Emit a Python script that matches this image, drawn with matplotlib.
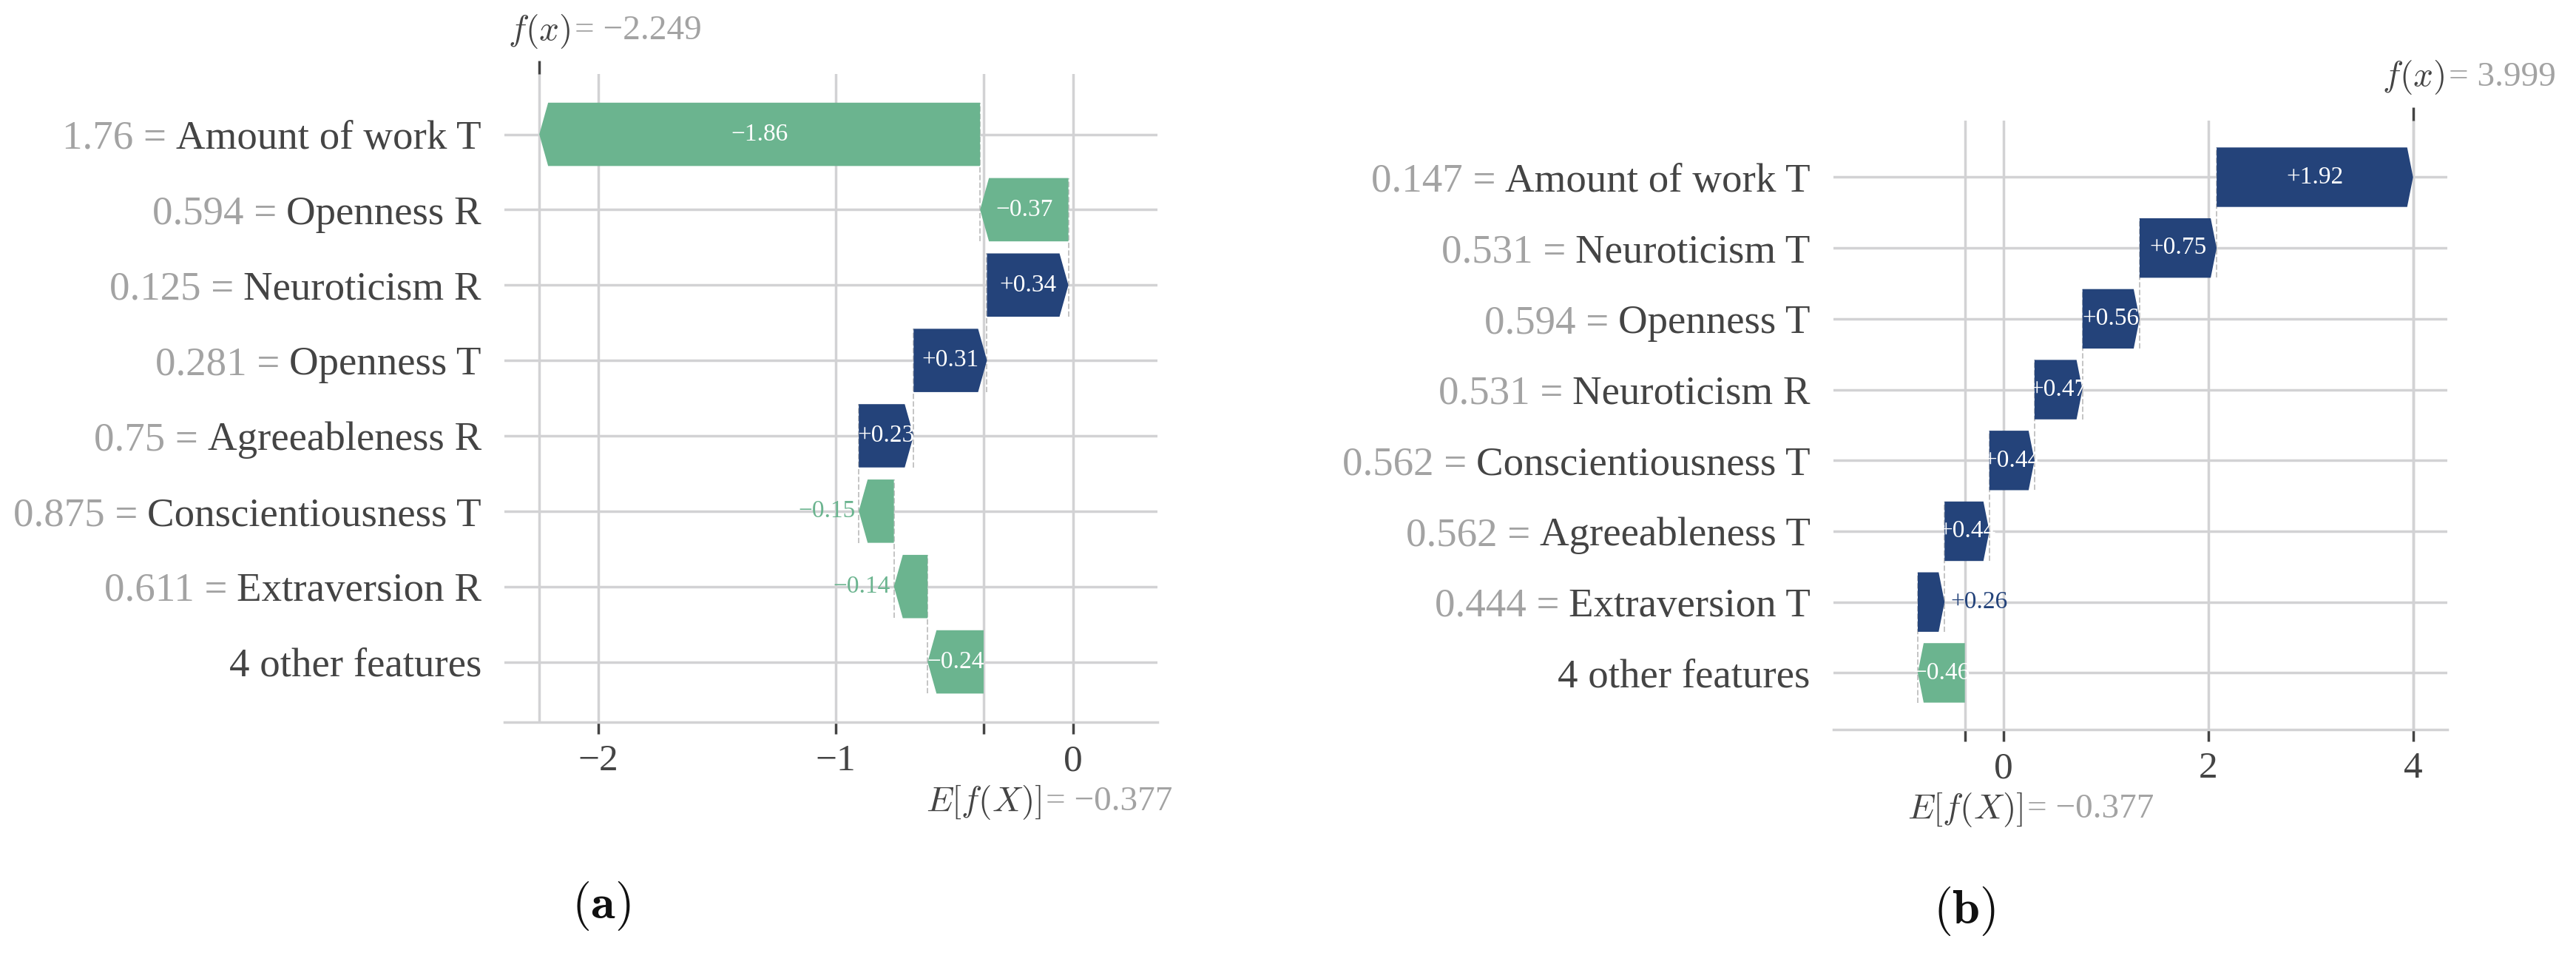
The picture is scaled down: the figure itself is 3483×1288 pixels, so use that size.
import matplotlib.pyplot as plt
import matplotlib.transforms as mtransforms
from matplotlib.patches import FancyArrow
import numpy as np

plt.rcParams['font.family'] = ['Liberation Serif', 'DejaVu Serif']
plt.rcParams['mathtext.fontset'] = 'cm'

# panel (a)
a_names = ["Amount of work T", "Openness R", "Neuroticism R", "Openness T",
           "Agreeableness R", "Conscientiousness T", "Extraversion R", "4 other features"]
a_values = ["1.76", "0.594", "0.125", "0.281", "0.75", "0.875", "0.611", ""]
a_shap = [-1.857, -0.372, 0.343, 0.309, 0.231, -0.148, -0.142, -0.236]
a_base = -0.377
a_fx = -2.249
a_xticks = [-2, -1, 0]

# panel (b)
b_names = ["Amount of work T", "Neuroticism T", "Openness T", "Neuroticism R",
           "Conscientiousness T", "Agreeableness T", "Extraversion T", "4 other features"]
b_values = ["0.147", "0.531", "0.594", "0.531", "0.562", "0.562", "0.444", ""]
b_shap = [1.918, 0.752, 0.558, 0.468, 0.441, 0.437, 0.262, -0.46]
b_base = -0.377
b_fx = 3.999
b_xticks = [0, 2, 4]

POS = "#24437a"
NEG = "#6bb48f"
GRID = "#d2d2d4"
DARK = "#444444"
GRAY = "#a3a3a3"
LABEL_FS = 39.5
MATH_FS = 34

fig = plt.figure(figsize=(34.83, 12.88), dpi=100)
renderer = fig.canvas.get_renderer()


def fmt(v, sign=False):
    s = f"{v:+.2f}" if sign else f"{v:.3f}"
    return s.replace("-", "\u2212")


def put_after(ax, txt_obj, s, gap, **kw):
    # place a gray text to the right of an already drawn text
    bb = txt_obj.get_window_extent(renderer)
    x, y = ax.transAxes.inverted().transform((bb.x1 + gap, (bb.y0 + bb.y1) / 2))
    return ax.text(x, y, s, transform=ax.transAxes, ha="left", va="center", **kw)


def waterfall(ax, names, fvals, shap, base, fx, xticks, xlim, head_px):
    n = len(names)
    ys = np.arange(n)[::-1]
    vals = np.array(shap)
    starts = np.zeros(n)
    ends = np.zeros(n)
    cur = base
    for i in range(n - 1, -1, -1):
        starts[i] = cur
        cur += vals[i]
        ends[i] = cur

    ax.set_xlim(*xlim)
    ax.set_ylim(-0.8, n - 0.2)
    w_px = ax.get_position().width * fig.get_figwidth() * fig.dpi
    ppu = w_px / (xlim[1] - xlim[0])
    hl = head_px / ppu
    bw = 0.84

    for i in range(n):
        v = vals[i]
        col = POS if v > 0 else NEG
        arr = FancyArrow(starts[i], ys[i], v, 0, width=bw, head_width=bw,
                         head_length=min(hl, abs(v)), length_includes_head=True,
                         color=col, lw=0, zorder=3)
        ax.add_patch(arr)
        txt = fmt(v, sign=True)
        if abs(v) * ppu > 55:
            ax.text((starts[i] + ends[i]) / 2, ys[i], txt, color="white",
                    fontsize=24, ha="center", va="center", zorder=4)
        else:
            dx = 8 if v > 0 else -5
            tr = mtransforms.offset_copy(ax.transData, fig=fig, x=dx, y=0, units="dots")
            ax.text(ends[i], ys[i], txt, color=col, fontsize=24, transform=tr,
                    ha="left" if v > 0 else "right", va="center", zorder=4)

    # dashed connectors between consecutive bars
    for i in range(n - 1):
        ax.plot([ends[i + 1], ends[i + 1]], [ys[i + 1] - bw / 2, ys[i] + bw / 2],
                color="#c4c4c4", ls="--", lw=1.4, zorder=1)

    # row labels: feature value in gray, feature name in dark
    ax.set_yticks(ys, labels=[""] * n)
    ax.tick_params(axis="y", length=0)
    ytr = mtransforms.offset_copy(ax.get_yaxis_transform(), fig=fig, x=-31,
                                  y=0, units="dots")
    for y, fv, nm in zip(ys, fvals, names):
        t = ax.text(0, y, nm, transform=ytr, ha="right", va="center_baseline",
                    fontsize=LABEL_FS, color=DARK)
        if fv:
            bb = t.get_window_extent(renderer)
            x0, _ = ax.transAxes.inverted().transform((bb.x0 - 13, 0))
            ax.text(x0, y, fv + " =", transform=ax.get_yaxis_transform(), ha="right",
                    va="center_baseline", fontsize=LABEL_FS, color=GRAY)

    ax.set_xticks(list(xticks) + [base],
                  labels=[str(t).replace("-", "\u2212") for t in xticks] + [""])
    ax.tick_params(axis="x", length=11.5, width=2.5, color=DARK, labelsize=37,
                   labelcolor=DARK, pad=10)
    ax.grid(True, axis="both", color=GRID, lw=2.5)
    ax.set_axisbelow(True)
    ax.axvline(fx, color=GRID, lw=2.5, zorder=0)
    for s in ["left", "right", "top"]:
        ax.spines[s].set_visible(False)
    ax.spines["bottom"].set_color(GRID)
    ax.spines["bottom"].set_linewidth(2.5)

    # top tick at f(x)
    axt = ax.twiny()
    axt.set_xlim(*xlim)
    axt.set_xticks([fx], labels=[""])
    axt.tick_params(axis="x", length=13, width=2.5, color=DARK)
    for s in axt.spines.values():
        s.set_visible(False)

    top = mtransforms.blended_transform_factory(ax.transData, ax.transAxes)
    t1 = mtransforms.offset_copy(top, fig=fig, x=0, y=58, units="dots")
    ft = ax.text(fx, 1, "$f(x)$", transform=t1, ha="center", va="center",
                 fontsize=MATH_FS, color=DARK)
    put_after(ax, ft, "= " + fmt(fx), 6, fontsize=MATH_FS, color=GRAY)

    b1 = mtransforms.offset_copy(top, fig=fig, x=0, y=-108, units="dots")
    et = ax.text(base, 0, "$E[f(X)]$", transform=b1, ha="center", va="center",
                 fontsize=MATH_FS, color=DARK)
    put_after(ax, et, "= " + fmt(base), 6, fontsize=MATH_FS, color=GRAY)


ax_a = fig.add_axes([0.1958, 0.2422, 0.2535, 0.6801])
waterfall(ax_a, a_names, a_values, a_shap, a_base, a_fx, a_xticks, (-2.396, 0.355), 12)

ax_b = fig.add_axes([0.7117, 0.2345, 0.2383, 0.639])
waterfall(ax_b, b_names, b_values, b_shap, b_base, b_fx, b_xticks, (-1.661, 4.332), 8)

fig.text(0.2334, 0.049, r"$(\mathbf{a})$", ha="center", va="center", fontsize=48, color="#111111")
fig.text(0.7626, 0.044, r"$(\mathbf{b})$", ha="center", va="center", fontsize=48, color="#111111")

fig.savefig("out.png", dpi=100, facecolor="white")
